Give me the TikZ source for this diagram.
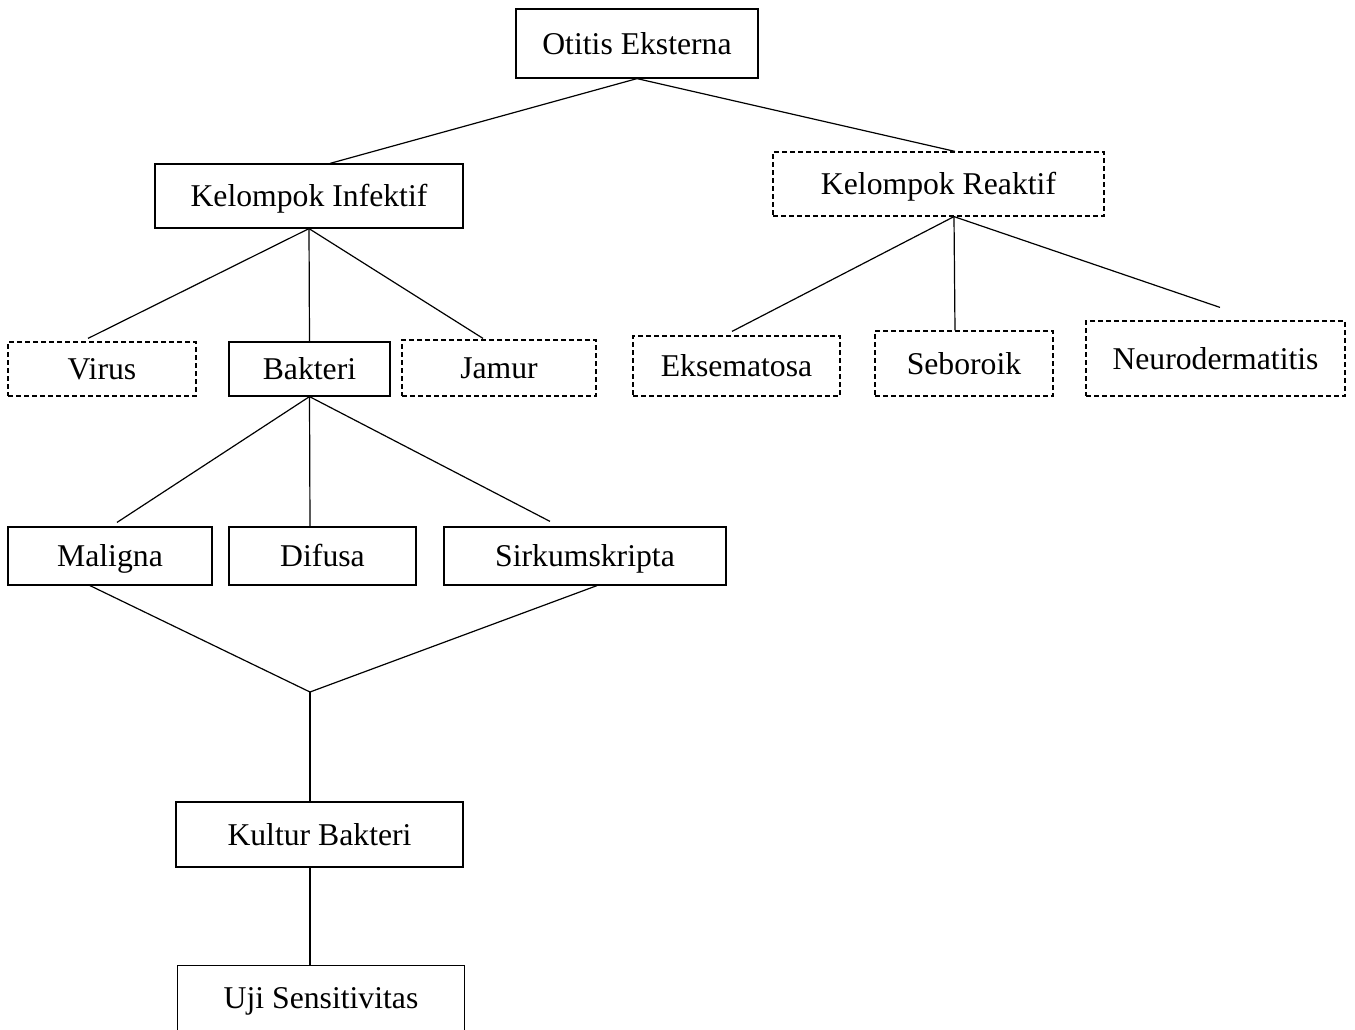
\documentclass[tikz,border=0pt]{standalone}
\usepackage{fontspec}
\setmainfont{Liberation Serif}
\usetikzlibrary{calc}
\begin{document}
\begin{tikzpicture}[x=1pt,y=-1pt,
  box/.style={draw,line width=1.2pt,rectangle,inner sep=0pt,anchor=center,
    text height=21pt,text depth=0pt,
    font=\fontsize{31.7}{38}\selectfont},
  dbox/.style={box,dash pattern=on 5pt off 3pt},
  conn/.style={line width=1.2pt}]
\useasboundingbox (0,0) rectangle (1355,1029);
\node[box,minimum width=242pt,minimum height=69pt] (otitis) at (637,43.5) {Otitis Eksterna};
\node[box,minimum width=308pt,minimum height=64pt] (infektif) at (309,196) {Kelompok Infektif};
\node[dbox,minimum width=331pt,minimum height=64pt] (reaktif) at (938.5,184) {Kelompok Reaktif};
\node[dbox,minimum width=188pt,minimum height=54pt] (virus) at (102,369) {Virus};
\node[box,minimum width=161pt,minimum height=54pt] (bakteri) at (309.5,369) {Bakteri};
\node[dbox,minimum width=194pt,minimum height=56pt] (jamur) at (499,368) {Jamur};
\node[dbox,minimum width=207pt,minimum height=60pt] (eksem) at (736.5,366) {Eksematosa};
\node[dbox,minimum width=178pt,minimum height=65pt] (sebor) at (964,363.5) {Seboroik};
\node[dbox,minimum width=259pt,minimum height=75pt] (neuro) at (1215.5,358.5) {Neurodermatitis};
\node[box,minimum width=204pt,minimum height=58pt] (maligna) at (110,556) {Maligna};
\node[box,minimum width=187pt,minimum height=58pt] (difusa) at (322.5,556) {Difusa};
\node[box,minimum width=282pt,minimum height=58pt] (sirkum) at (585,556) {Sirkumskripta};
\node[box,minimum width=287pt,minimum height=65pt] (kultur) at (319.5,834.5) {Kultur Bakteri};
\node[box,draw=none,minimum width=286pt,minimum height=63pt] (uji) at (321,997.5) {Uji Sensitivitas};
\draw[line width=1.2pt] ($(uji.south west)+(0,30)$) -- (uji.north west) -- (uji.north east) -- ($(uji.south east)+(0,30)$);
\coordinate (junc) at (310,692);
% connectors
\draw[conn] (otitis.south) -- ($(infektif.north)+(21,0)$);
\draw[conn] (otitis.south) -- ($(reaktif.north)+(16.5,0)$);
\draw[conn] (infektif.south) -- ($(virus.north)+(-14,-3)$);
\draw[conn] (infektif.south) -- (bakteri.north);
\draw[conn] (infektif.south) -- ($(jamur.north)+(-16,-1)$);
\draw[conn] ($(reaktif.south)+(15.5,0)$) -- ($(eksem.north)+(-4.5,-4)$);
\draw[conn] ($(reaktif.south)+(15.5,0)$) -- ($(sebor.north)+(-9,0)$);
\draw[conn] ($(reaktif.south)+(15.5,0)$) -- ($(neuro.north)+(4.5,-13)$);
\draw[conn] (bakteri.south) -- ($(maligna.north)+(7,-4)$);
\draw[conn] (bakteri.south) -- ($(difusa.north)+(-12.5,0)$);
\draw[conn] (bakteri.south) -- ($(sirkum.north)+(-35,-5)$);
\draw[conn] ($(maligna.south)+(-20,0)$) -- (junc);
\draw[conn] ($(sirkum.south)+(12,0)$) -- (junc);
\draw[conn] (junc) -- ($(kultur.north)+(-9.5,0)$);
\draw[conn] ($(kultur.south)+(-9.5,0)$) -- ($(uji.north)+(-11,0)$);
\end{tikzpicture}
\end{document}
